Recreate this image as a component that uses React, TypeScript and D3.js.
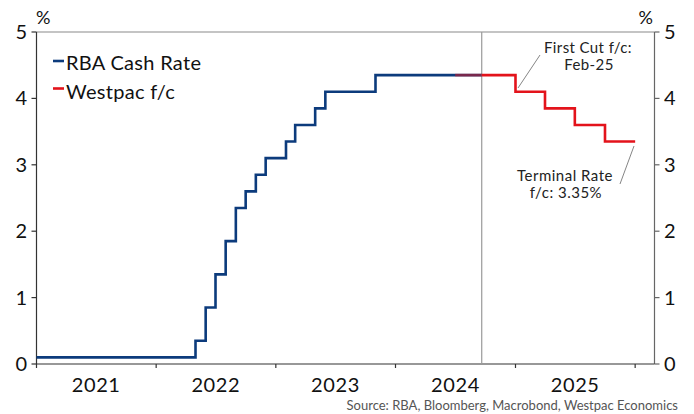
import React from "react";
import * as d3 from "d3";

// RBA cash rate (actual) — step changes on the first of the month
const rbaDates = [
  "2021-01-01", "2022-05-01", "2022-06-01", "2022-07-01", "2022-08-01",
  "2022-09-01", "2022-10-01", "2022-11-01", "2022-12-01", "2023-02-01",
  "2023-03-01", "2023-05-01", "2023-06-01", "2023-11-01", "2024-09-20",
];
const rbaRates = [
  0.1, 0.35, 0.85, 1.35, 1.85, 2.35, 2.6, 2.85, 3.1, 3.35, 3.6, 3.85, 4.1, 4.35, 4.35,
];

// Westpac forecast path
const westpacDates = [
  "2024-07-01", "2025-01-01", "2025-04-01", "2025-07-01", "2025-10-01", "2026-01-01",
];
const westpacRates = [4.35, 4.1, 3.85, 3.6, 3.35, 3.35];

const yTicks = [0, 1, 2, 3, 4, 5];
const yearLabels = [2021, 2022, 2023, 2024, 2025];
const lastActual = "2024-09-20";

const W = 694;
const H = 414;
const FONT = "Lato, 'Open Sans', sans-serif";
const BLUE = "#0c3b7c";
const RED = "#e3131b";

export default function App() {
  const x = d3
    .scaleTime()
    .domain([new Date("2021-01-01"), new Date("2026-03-01")])
    .range([36.5, 654.5]);
  const y = d3.scaleLinear().domain([0, 5]).range([364, 32]);

  const rba = rbaDates.map((d, i) => ({ date: new Date(d), v: rbaRates[i] }));
  const wbc = westpacDates.map((d, i) => ({ date: new Date(d), v: westpacRates[i] }));

  const line = d3
    .line<{ date: Date; v: number }>()
    .x((d) => x(d.date))
    .y((d) => y(d.v))
    .curve(d3.curveStepAfter);

  const [x0, x1] = x.range();
  const [yb, yt] = y.range();
  const xCut = x(new Date(lastActual));
  const yearTicks = d3.timeYear.range(new Date("2021-01-01"), new Date("2026-02-01"));

  return (
    <svg
      width={W}
      height={H}
      style={{ position: "absolute", left: 0, top: 0, background: "#fff" }}
      fontFamily={FONT}
    >
      <defs>
        <clipPath id="before-cut">
          <rect x={0} y={0} width={xCut} height={H} />
        </clipPath>
        <clipPath id="after-cut">
          <rect x={xCut} y={0} width={W - xCut} height={H} />
        </clipPath>
      </defs>

      {/* frame */}
      <line x1={x0} x2={x1} y1={yt} y2={yt} stroke="#8a8a8a" strokeWidth={1.2} />
      <line x1={x1} x2={x1} y1={yt} y2={yb} stroke="#666" strokeWidth={1.2} />
      <line x1={x0} x2={x0} y1={yt} y2={yb} stroke="#333" strokeWidth={1.2} />
      <line x1={x0} x2={x1} y1={yb} y2={yb} stroke="#333" strokeWidth={1.2} />

      {/* y ticks and labels, both sides */}
      {yTicks.map((t) => (
        <g key={t}>
          <line x1={x0 - 5} x2={x0} y1={y(t)} y2={y(t)} stroke="#333" strokeWidth={1.2} />
          <line x1={x1} x2={x1 + 5} y1={y(t)} y2={y(t)} stroke="#666" strokeWidth={1.2} />
          <text x={27} y={y(t) + 7} textAnchor="end" fontSize={20} fill="#111">
            {t}
          </text>
          <text x={664} y={y(t) + 7} textAnchor="start" fontSize={20} fill="#111">
            {t}
          </text>
        </g>
      ))}
      <text x={36} y={24} fontSize={18} fill="#111">%</text>
      <text x={653} y={24} fontSize={18} fill="#111" textAnchor="end">%</text>

      {/* x ticks and year labels */}
      {yearTicks.map((d) => (
        <line key={+d} x1={x(d)} x2={x(d)} y1={yb} y2={yb + 4} stroke="#333" strokeWidth={1.2} />
      ))}
      {yearLabels.map((yr) => (
        <text
          key={yr}
          x={x(new Date(`${yr}-07-02`))}
          y={391.5}
          textAnchor="middle"
          fontSize={20}
          letterSpacing={0.6}
          fill="#111"
        >
          {yr}
        </text>
      ))}

      {/* last actual marker */}
      <line x1={xCut} x2={xCut} y1={yt} y2={yb} stroke="#9a9a9a" strokeWidth={1.2} />

      {/* series */}
      <path d={line(rba) ?? ""} fill="none" stroke={BLUE} strokeWidth={2.6} />
      <path
        d={line(wbc) ?? ""}
        fill="none"
        stroke={RED}
        strokeWidth={2.6}
        opacity={0.5}
        clipPath="url(#before-cut)"
      />
      <path
        d={line(wbc) ?? ""}
        fill="none"
        stroke={RED}
        strokeWidth={2.6}
        clipPath="url(#after-cut)"
      />

      {/* legend */}
      <line x1={53} x2={64} y1={61} y2={61} stroke={BLUE} strokeWidth={2.6} />
      <text x={66} y={69.5} fontSize={20} letterSpacing={0.3} fill="#111">RBA Cash Rate</text>
      <line x1={53} x2={64} y1={88.5} y2={88.5} stroke={RED} strokeWidth={2.6} />
      <text x={66} y={99} fontSize={20} letterSpacing={0.3} fill="#111">Westpac f/c</text>

      {/* annotations */}
      <line x1={540} y1={55} x2={518} y2={88} stroke="#777" strokeWidth={0.9} />
      <text x={588} y={53} textAnchor="middle" fontSize={15} letterSpacing={0.4} fill="#222">First Cut f/c:</text>
      <text x={589} y={69.5} textAnchor="middle" fontSize={15} letterSpacing={0.4} fill="#222">Feb-25</text>

      <line x1={634} y1={146} x2={620} y2={184} stroke="#777" strokeWidth={0.9} />
      <text x={565} y={181} textAnchor="middle" fontSize={15} letterSpacing={0.5} fill="#222">Terminal Rate</text>
      <text x={566} y={197.5} textAnchor="middle" fontSize={15} letterSpacing={0.5} fill="#222">f/c: 3.35%</text>

      {/* source */}
      <text x={678} y={410} textAnchor="end" fontSize={13} fill="#555">
        Source: RBA, Bloomberg, Macrobond, Westpac Economics
      </text>
    </svg>
  );
}
